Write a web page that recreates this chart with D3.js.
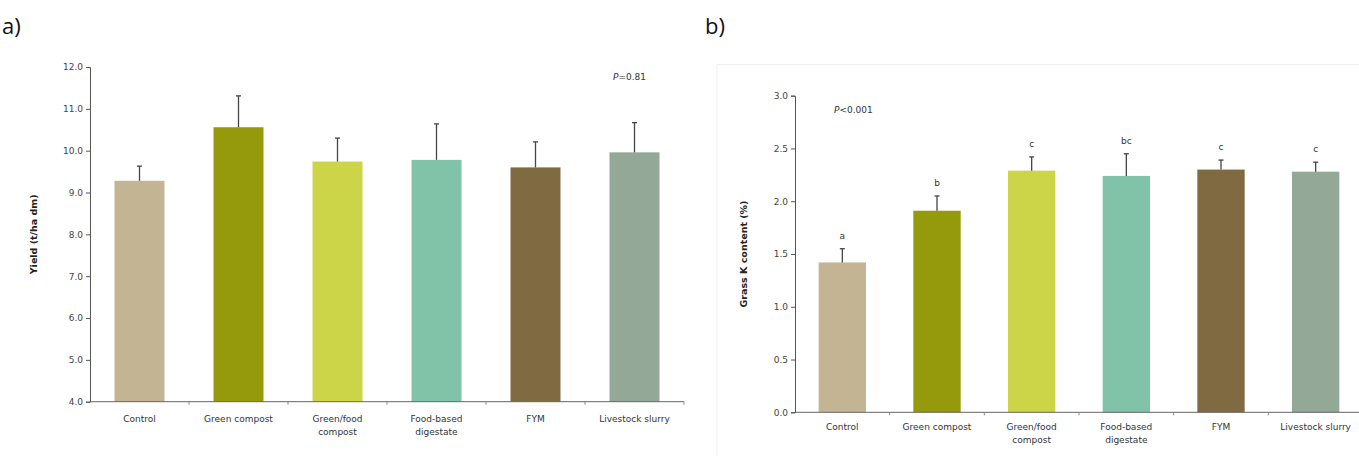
<!DOCTYPE html>
<html><head><meta charset="utf-8">
<script src="https://cdn.jsdelivr.net/npm/d3@7"></script>
<style>body{margin:0;background:#fff;} svg{display:block;}</style>
</head><body>
<svg id="c" width="1359" height="456"></svg>
<script>
const categories = ["Control","Green compost","Green/food compost","Food-based digestate","FYM","Livestock slurry"];
const labelLinesA = [["Control"],["Green compost"],["Green/food","compost"],["Food-based","digestate"],["FYM"],["Livestock slurry"]];
const colors = ["#c3b593","#949a0b","#ccd548","#80c3a8","#7f6a41","#93a897"];
const yieldMean = [9.28, 10.56, 9.74, 9.78, 9.60, 9.96];
const yieldErr  = [0.35, 0.75, 0.56, 0.86, 0.61, 0.71];
const yieldTicks = [4,5,6,7,8,9,10,11,12];
const kMean = [1.42, 1.91, 2.29, 2.24, 2.30, 2.28];
const kErr  = [0.13, 0.14, 0.13, 0.21, 0.09, 0.09];
const kLetters = ["a","b","c","bc","c","c"];
const kTicks = [0,0.5,1.0,1.5,2.0,2.5,3.0];

const svg = d3.select("#c");
const FONT = "DejaVu Sans, Verdana, sans-serif";

svg.append("text").attr("x",2).attr("y",34).attr("font-family","Open Sans, Liberation Sans, sans-serif")
  .attr("font-size",22).attr("fill","#111").text("a)");
svg.append("text").attr("x",705).attr("y",34).attr("font-family","Open Sans, Liberation Sans, sans-serif")
  .attr("font-size",22).attr("fill","#111").text("b)");

svg.append("rect").attr("x",717).attr("y",64.5).attr("width",700).attr("height",420)
  .attr("fill","none").attr("stroke","#f0f0f0").attr("stroke-width",1);

function panel(opt){
  const x = d3.scaleBand().domain(categories).range([opt.x0,opt.x1]).paddingInner(opt.pad).paddingOuter(opt.pad/2);
  const y = d3.scaleLinear().domain(opt.dom).range([opt.yb,opt.yt]);
  const g = svg.append("g");
  g.selectAll("rect.bar").data(categories).join("rect")
    .attr("x",d=>x(d)).attr("width",x.bandwidth())
    .attr("y",(d,i)=>y(opt.mean[i])).attr("height",(d,i)=>y(opt.dom[0])-y(opt.mean[i]))
    .attr("fill",(d,i)=>colors[i]);
  g.selectAll("line.err").data(categories).join("line")
    .attr("x1",d=>x(d)+x.bandwidth()/2).attr("x2",d=>x(d)+x.bandwidth()/2)
    .attr("y1",(d,i)=>y(opt.mean[i])).attr("y2",(d,i)=>y(opt.mean[i]+opt.err[i]))
    .attr("stroke","#444").attr("stroke-width",1.3);
  g.selectAll("line.cap").data(categories).join("line")
    .attr("x1",d=>x(d)+x.bandwidth()/2-2.5).attr("x2",d=>x(d)+x.bandwidth()/2+2.5)
    .attr("y1",(d,i)=>y(opt.mean[i]+opt.err[i])).attr("y2",(d,i)=>y(opt.mean[i]+opt.err[i]))
    .attr("stroke","#444").attr("stroke-width",1.3);
  const ya = g.append("g").attr("transform",`translate(${opt.x0},0)`)
    .call(d3.axisLeft(y).tickValues(opt.ticks).tickFormat(d3.format(".1f")).tickSize(4).tickPadding(3));
  ya.select(".domain").attr("stroke","#555");
  ya.selectAll(".tick line").attr("stroke","#555");
  ya.selectAll("text").attr("font-family",FONT).attr("font-size",9).attr("fill","#444");
  const xa = g.append("g").attr("transform",`translate(0,${opt.yb})`);
  xa.append("line").attr("x1",opt.x0).attr("x2",opt.x1).attr("stroke","#666");
  const edges = categories.map(d=>x(d)-x.step()*opt.pad/2).slice(1).concat([opt.x1]);
  xa.selectAll("line.t").data(edges).join("line").attr("x1",d=>d).attr("x2",d=>d)
    .attr("y1",0).attr("y2",3).attr("stroke","#888");
  categories.forEach((c,i)=>{
    const t = xa.append("text").attr("x",x(c)+x.bandwidth()/2).attr("y",opt.ly)
      .attr("text-anchor","middle").attr("font-family",FONT).attr("font-size",9).attr("fill","#333");
    labelLinesA[i].forEach((l,j)=>t.append("tspan").attr("x",x(c)+x.bandwidth()/2).attr("dy",j?13:0).text(l));
  });
  g.append("text").attr("transform",`translate(${opt.labX},${(opt.yt+opt.yb)/2}) rotate(-90)`)
    .attr("text-anchor","middle").attr("font-family",FONT).attr("font-size",9.5).attr("font-weight","bold")
    .attr("fill","#222").text(opt.ylabel);
  const p = g.append("text").attr("x",opt.px).attr("y",opt.py).attr("font-family",FONT).attr("font-size",9).attr("fill","#333");
  p.append("tspan").attr("font-style","italic").text("P");
  p.append("tspan").text(opt.ptext);
  return {x,y,g};
}

panel({x0:90,x1:684,yb:401.7,yt:67,dom:[4,12],ticks:yieldTicks,pad:0.495,mean:yieldMean,err:yieldErr,
  ly:20,labX:37,ylabel:"Yield (t/ha dm)",px:613,py:80,ptext:"=0.81"});

const b = panel({x0:795,x1:1363,yb:412.3,yt:95.7,dom:[0,3],ticks:kTicks,pad:0.5,mean:kMean,err:kErr,
  ly:18,labX:747,ylabel:"Grass K content (%)",px:834,py:113,ptext:"<0.001"});

b.g.selectAll("text.let").data(categories).join("text")
  .attr("x",d=>b.x(d)+b.x.bandwidth()/2).attr("y",(d,i)=>b.y(kMean[i]+kErr[i])-10)
  .attr("text-anchor","middle").attr("font-family",FONT).attr("font-size",9).attr("fill","#333")
  .text((d,i)=>kLetters[i]);
</script>
</body></html>
